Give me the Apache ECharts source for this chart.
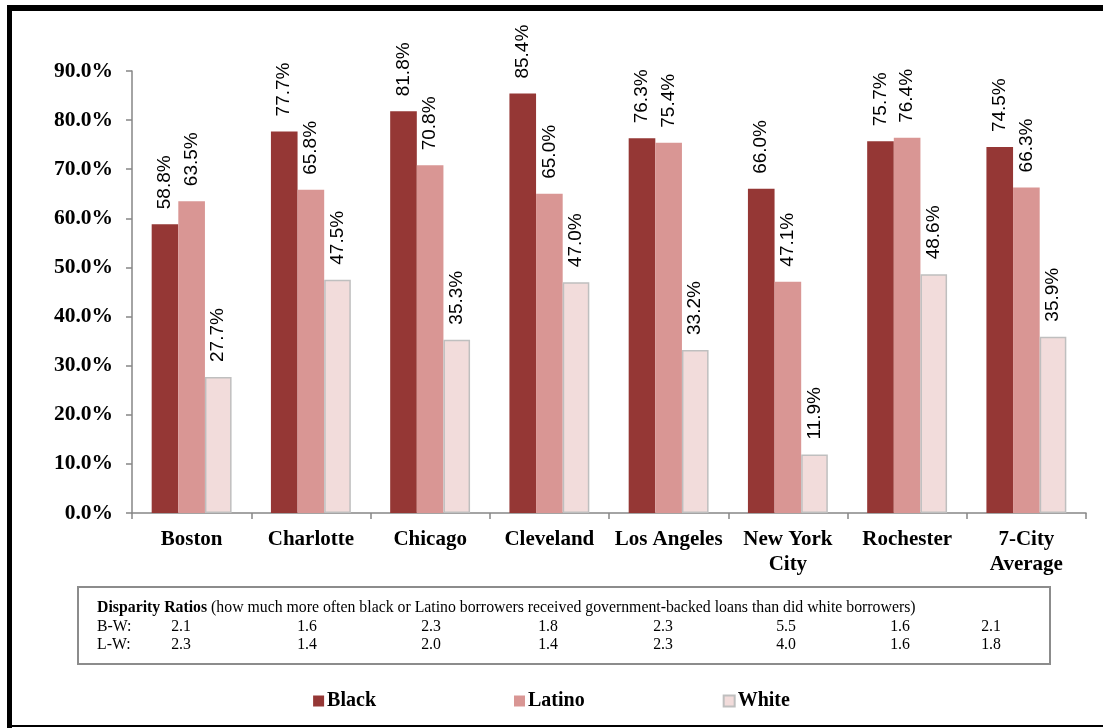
<!DOCTYPE html>
<html>
<head>
<meta charset="utf-8">
<title>Government-backed loans by race</title>
<script src="https://cdn.jsdelivr.net/npm/echarts@6/dist/echarts.min.js"></script>
<style>
  html, body { margin: 0; padding: 0; background: #fff; }
  #chart { width: 1103px; height: 728px; }
</style>
</head>
<body>
<div id="chart"></div>
<script>
// Share of borrowers receiving government-backed loans, by city and race
const cities = ['Boston', 'Charlotte', 'Chicago', 'Cleveland', 'Los Angeles', 'New York\nCity', 'Rochester', '7-City\nAverage'];
const black  = [58.8, 77.7, 81.8, 85.4, 76.3, 66.0, 75.7, 74.5];
const latino = [63.5, 65.8, 70.8, 65.0, 75.4, 47.1, 76.4, 66.3];
const white  = [27.7, 47.5, 35.3, 47.0, 33.2, 11.9, 48.6, 35.9];

// Disparity ratios table
const ratioTitleBold = 'Disparity Ratios';
const ratioTitleRest = ' (how much more often black or Latino borrowers received government-backed loans than did white borrowers)';
const bwLabel = 'B-W:';
const lwLabel = 'L-W:';
const bwRatios = ['2.1', '1.6', '2.3', '1.8', '2.3', '5.5', '1.6', '2.1'];
const lwRatios = ['2.3', '1.4', '2.0', '1.4', '2.3', '4.0', '1.6', '1.8'];

const SERIF = '"Liberation Serif", "Times New Roman", serif';
const SANS = '"Liberation Sans", Arial, sans-serif';

// table column centres (layout only)
const tableCols = [181, 307, 431, 548, 663, 786, 900, 991];

const chart = echarts.init(document.getElementById('chart'), null, { renderer: 'canvas' });

const valueLabel = {
  show: true,
  position: 'top',
  rotate: 90,
  align: 'left',
  verticalAlign: 'middle',
  distance: 15,
  fontFamily: SANS,
  fontSize: 19,
  color: '#000',
  formatter: p => p.value.toFixed(1) + '%'
};

const TFS = 15.8;
const tableTexts = [];
tableTexts.push({
  type: 'text', left: 97, top: 600,
  style: {
    text: '{b|' + ratioTitleBold + '}{r|' + ratioTitleRest + '}',
    rich: {
      b: { fontFamily: SERIF, fontSize: TFS, fontWeight: 'bold', fill: '#000' },
      r: { fontFamily: SERIF, fontSize: TFS, fill: '#000' }
    }
  }
});
[[bwLabel, bwRatios, 619], [lwLabel, lwRatios, 637]].forEach(([lab, vals, y]) => {
  tableTexts.push({ type: 'text', left: 97, top: y,
    style: { text: lab, fontFamily: SERIF, fontSize: TFS, fill: '#000' } });
  vals.forEach((v, i) => {
    tableTexts.push({ type: 'text', x: tableCols[i], y: y,
      style: { text: v, fontFamily: SERIF, fontSize: TFS, fill: '#000', textAlign: 'center', textVerticalAlign: 'top' } });
  });
});

chart.setOption({
  animation: false,
  backgroundColor: '#fff',
  grid: { left: 132, right: 17, top: 71, bottom: 215 },
  legend: {
    left: 'center',
    top: 686,
    itemWidth: 11,
    itemHeight: 11,
    itemGap: 138,
    icon: 'rect',
    textStyle: { fontFamily: SERIF, fontSize: 20, fontWeight: 'bold', color: '#000', padding: [0, 0, 0, -2] },
    data: ['Black', 'Latino', 'White']
  },
  xAxis: {
    type: 'category',
    data: cities,
    axisLine: { lineStyle: { color: '#868686', width: 1.5 } },
    axisTick: { show: true, length: 6, lineStyle: { color: '#868686', width: 1.5 } },
    axisLabel: {
      fontFamily: SERIF, fontSize: 21, fontWeight: 'bold', color: '#000',
      margin: 14, lineHeight: 25, interval: 0
    }
  },
  yAxis: {
    type: 'value',
    min: 0, max: 90, interval: 10,
    axisLine: { show: true, lineStyle: { color: '#868686', width: 1.5 } },
    axisTick: { show: true, length: 6, lineStyle: { color: '#868686', width: 1.5 } },
    splitLine: { show: false },
    axisLabel: {
      fontFamily: SERIF, fontSize: 21.5, fontWeight: 'bold', color: '#000', margin: 19,
      formatter: v => v.toFixed(1) + '%'
    }
  },
  series: [
    { name: 'Black', type: 'bar', data: black, barGap: '0%', barCategoryGap: '33%',
      itemStyle: { color: '#953735' }, label: valueLabel },
    { name: 'Latino', type: 'bar', data: latino, barGap: '0%', barCategoryGap: '33%',
      itemStyle: { color: '#d99694' }, label: valueLabel },
    { name: 'White', type: 'bar', data: white, barGap: '0%', barCategoryGap: '33%',
      itemStyle: { color: '#f2dcdb', borderColor: '#bfbfbf', borderWidth: 1.5 }, label: valueLabel }
  ],
  graphic: [
    // page frame
    { type: 'rect', shape: { x: 7, y: 5, width: 5, height: 723 }, style: { fill: '#000' } },
    { type: 'rect', shape: { x: 7, y: 5, width: 1096, height: 6 }, style: { fill: '#000' } },
    { type: 'rect', shape: { x: 7, y: 725, width: 1096, height: 2 }, style: { fill: '#000' } },
    // ratio table box
    { type: 'rect', shape: { x: 78, y: 587, width: 972, height: 77 },
      style: { fill: 'none', stroke: '#8c8c8c', lineWidth: 2 } },
    ...tableTexts
  ]
});
</script>
</body>
</html>
